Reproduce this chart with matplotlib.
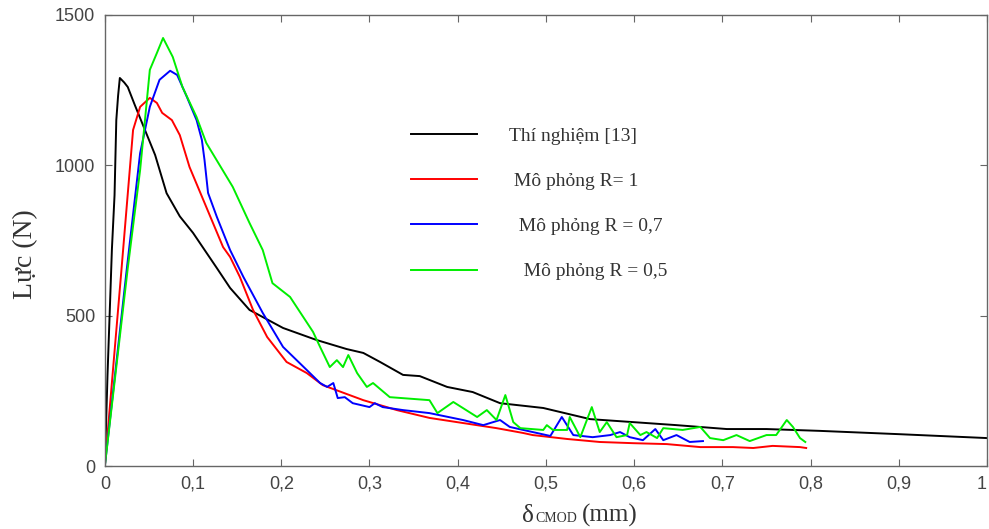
import matplotlib
matplotlib.use('Agg')
import matplotlib.pyplot as plt
from matplotlib.ticker import FixedLocator, FuncFormatter

# ── DỮ LIỆU ───────────────────────────────────────────────────────────────────
x_tn = [0, 0.003, 0.006, 0.008, 0.011, 0.013, 0.015, 0.017, 0.022, 0.026, 0.034,
        0.057, 0.07, 0.085, 0.1, 0.127, 0.142, 0.164, 0.202, 0.24, 0.274, 0.293,
        0.312, 0.338, 0.357, 0.388, 0.417, 0.448, 0.497, 0.55, 0.599, 0.648,
        0.705, 0.75, 0.81, 0.9, 1.0]
y_tn = [0, 300, 550, 720, 900, 1150, 1230, 1290, 1275, 1260, 1200,
        1034, 907, 830, 775, 658, 592, 519, 459, 419, 389, 376,
        346, 303, 299, 263, 246, 209, 193, 156, 146, 136,
        123, 123, 117, 106, 93]

x_r1 = [0, 0.019, 0.032, 0.04, 0.051, 0.059, 0.065, 0.076, 0.085, 0.096, 0.115,
        0.134, 0.142, 0.153, 0.168, 0.184, 0.206, 0.229, 0.247, 0.293, 0.331,
        0.368, 0.406, 0.444, 0.474, 0.485, 0.524, 0.561, 0.599, 0.637, 0.675,
        0.712, 0.735, 0.757, 0.788, 0.795]
y_r1 = [0, 658, 1117, 1194, 1224, 1207, 1174, 1150, 1100, 994, 861,
        728, 695, 629, 519, 429, 346, 309, 269, 219, 186,
        160, 143, 126, 110, 103, 90, 80, 76, 73, 63,
        63, 60, 67, 63, 60]

x_r07 = [0, 0.025, 0.04, 0.051, 0.062, 0.074, 0.082, 0.093, 0.104, 0.11, 0.113,
         0.117, 0.127, 0.142, 0.157, 0.179, 0.202, 0.229, 0.244, 0.252, 0.259,
         0.264, 0.272, 0.281, 0.3, 0.306, 0.315, 0.338, 0.368, 0.406, 0.429,
         0.448, 0.459, 0.485, 0.505, 0.518, 0.531, 0.553, 0.573, 0.584, 0.595,
         0.61, 0.624, 0.633, 0.648, 0.663, 0.678]
y_r07 = [0, 658, 1040, 1194, 1284, 1314, 1300, 1227, 1150, 1084, 1017,
         908, 828, 718, 629, 509, 396, 319, 276, 263, 276,
         226, 229, 209, 196, 209, 196, 186, 176, 153, 136,
         153, 130, 113, 100, 163, 103, 96, 103, 113, 96,
         86, 123, 86, 103, 80, 83]

x_r05 = [0, 0.026, 0.04, 0.051, 0.059, 0.066, 0.077, 0.088, 0.104, 0.115, 0.122,
         0.145, 0.164, 0.179, 0.19, 0.21, 0.236, 0.244, 0.255, 0.263, 0.27,
         0.276, 0.286, 0.297, 0.304, 0.323, 0.368, 0.377, 0.395, 0.422, 0.433,
         0.444, 0.454, 0.463, 0.471, 0.497, 0.501, 0.508, 0.524, 0.527, 0.539,
         0.552, 0.561, 0.569, 0.58, 0.592, 0.595, 0.607, 0.614, 0.626, 0.633,
         0.655, 0.675, 0.686, 0.701, 0.716, 0.731, 0.75, 0.761, 0.773, 0.78,
         0.788, 0.794]
y_r05 = [0, 658, 984, 1317, 1373, 1423, 1360, 1260, 1160, 1074, 1040,
         928, 808, 718, 608, 562, 446, 396, 329, 352, 329,
         369, 309, 263, 276, 229, 219, 176, 213, 163, 186,
         153, 236, 146, 126, 120, 136, 120, 120, 163, 96,
         196, 113, 146, 96, 103, 143, 103, 113, 93, 126,
         120, 130, 93, 86, 103, 83, 103, 103, 153, 130,
         93, 80]

nhan = ['Thí nghiệm [13]', ' Mô phỏng R= 1', '  Mô phỏng R = 0,7', '   Mô phỏng R = 0,5']
mau = ['black', 'red', 'blue', '#00ee00']

x_ticks = [0, 0.1, 0.2, 0.3, 0.4, 0.5, 0.6, 0.7, 0.8, 0.9, 1.0]
y_ticks = [0, 500, 1000, 1500]

# ── HÌNH ──────────────────────────────────────────────────────────────────────
W, H = 989, 529
fig = plt.figure(figsize=(W / 100, H / 100), dpi=100)
ax = fig.add_axes([0.106, 0.119, 0.892, 0.853])

for xs, ys, c, lb in zip([x_tn, x_r1, x_r07, x_r05], [y_tn, y_r1, y_r07, y_r05], mau, nhan):
    ax.plot(xs, ys, color=c, linewidth=1.4, label=lb)

ax.set_xlim(0, 1)
ax.set_ylim(0, 1500)
ax.xaxis.set_major_locator(FixedLocator(x_ticks))
ax.yaxis.set_major_locator(FixedLocator(y_ticks))
ax.xaxis.set_major_formatter(FuncFormatter(lambda v, p: ('%g' % v).replace('.', ',')))
ax.tick_params(direction='in', top=True, right=True, length=5, width=0.8,
               colors='#666666', labelcolor='#444444', labelsize=13, pad=7)
for lbl in ax.get_xticklabels() + ax.get_yticklabels():
    lbl.set_family('Liberation Sans')
ax.get_xticklabels()[-1].set_horizontalalignment('right')
for s in ax.spines.values():
    s.set_color('#666666')
    s.set_linewidth(1.0)

ax.set_ylabel('Lực (N)', family='Liberation Serif', fontsize=20, color='#333333')
ax.yaxis.set_label_coords(-0.076, 0.47)

# nhãn trục x: δ + chỉ số CMOD nhỏ + (mm)
y_base = 1 - 522 / H
fig.text(522 / W, y_base, 'δ', family='Liberation Serif', fontsize=18,
         color='#333333', va='baseline')
fig.text(535 / W, y_base, 'CMOD', family='Liberation Serif', fontsize=10,
         color='#333333', va='baseline')
fig.text(582 / W, y_base, '(mm)', family='Liberation Serif', fontsize=18,
         color='#333333', va='baseline')

leg = ax.legend(loc='upper left', bbox_to_anchor=(0.327, 0.79), frameon=False,
                prop={'family': 'Liberation Serif', 'size': 14},
                handlelength=3.4, handletextpad=1.65, labelspacing=1.42)
for t in leg.get_texts():
    t.set_color('#333333')

fig.savefig('out.png', dpi=100)
